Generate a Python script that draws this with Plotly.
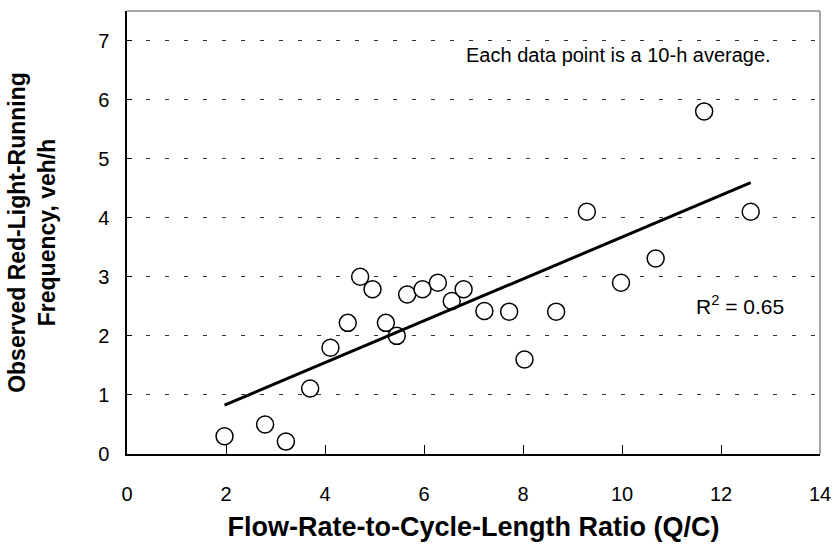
import numpy as np
import plotly.graph_objects as go

# Data
qc_ratio = [1.97, 2.79, 3.21, 3.70, 4.11, 4.46, 4.71, 4.96, 5.23, 5.45, 5.66, 5.97,
            6.28, 6.56, 6.80, 7.22, 7.72, 8.03, 8.67, 9.29, 9.98, 10.68, 11.66, 12.60]
rlr_freq = [0.30, 0.50, 0.21, 1.11, 1.80, 2.22, 3.00, 2.79, 2.22, 2.00, 2.70, 2.79,
            2.90, 2.59, 2.79, 2.42, 2.41, 1.60, 2.41, 4.10, 2.90, 3.31, 5.80, 4.10]
x_ticks = [0, 2, 4, 6, 8, 10, 12, 14]
y_ticks = [0, 1, 2, 3, 4, 5, 6, 7]

x = np.array(qc_ratio)
y = np.array(rlr_freq)
slope, intercept = np.polyfit(x, y, 1)
trend_x = np.array([x.min(), x.max()])
trend_y = slope * trend_x + intercept

FONT = "Liberation Sans, Arial, sans-serif"

fig = go.Figure()
fig.add_trace(go.Scatter(
    x=qc_ratio, y=rlr_freq, mode="markers",
    marker=dict(symbol="circle", size=17, color="white",
                line=dict(color="black", width=1.5)),
    showlegend=False, cliponaxis=False))
fig.add_trace(go.Scatter(
    x=trend_x, y=trend_y, mode="lines",
    line=dict(color="black", width=3), showlegend=False))

fig.update_layout(
    width=836, height=544,
    margin=dict(l=127, r=16, t=11, b=90),
    paper_bgcolor="white", plot_bgcolor="white",
    font=dict(family=FONT, size=20, color="black"),
    xaxis=dict(range=[0, 14], tickvals=x_ticks, ticktext=[str(v) for v in x_ticks],
               automargin=False,
               showgrid=False, zeroline=False,
               showline=True, linecolor="black", linewidth=1.5,
               ticks="inside", ticklen=9, tickcolor="black", tickwidth=1,
               ticklabelstandoff=21,
               title=dict(text="Flow-Rate-to-Cycle-Length Ratio (Q/C)",
                          font=dict(family=FONT, size=27, weight="bold"),
                          standoff=13)),
    yaxis=dict(range=[0, 7.5], tickvals=y_ticks, ticktext=[str(v) for v in y_ticks],
               automargin=False,
               showgrid=True, gridcolor="#333333", gridwidth=1, griddash="4px,15px",
               zeroline=False,
               showline=True, linecolor="black", linewidth=1.5,
               ticks="inside", ticklen=5, tickcolor="black", tickwidth=1,
               ticklabelstandoff=12,
               title=dict(text="Observed Red-Light-Running<br>Frequency, veh/h",
                          font=dict(family=FONT, size=23, weight="bold"),
                          standoff=36)),
    shapes=[
        dict(type="line", xref="paper", yref="paper", x0=0, x1=1, y0=1, y1=1,
             line=dict(color="#888888", width=1.5)),
        dict(type="line", xref="paper", yref="paper", x0=1, x1=1, y0=0, y1=1,
             line=dict(color="#888888", width=1.5)),
    ],
    annotations=[
        dict(x=13.05, y=6.75, xref="x", yref="y", xanchor="right", yanchor="middle",
             text="Each data point is a 10-h average.", showarrow=False,
             font=dict(family=FONT, size=20, color="black")),
        dict(x=11.45, y=2.52, xref="x", yref="y", xanchor="left", yanchor="middle",
             text="R<sup>2</sup> = 0.65", showarrow=False,
             font=dict(family=FONT, size=21, color="black")),
    ],
)

fig.write_html("out.html",
               config={"displayModeBar": False},
               post_script="document.body.style.margin='0';"
                           "document.body.style.overflow='hidden';")
